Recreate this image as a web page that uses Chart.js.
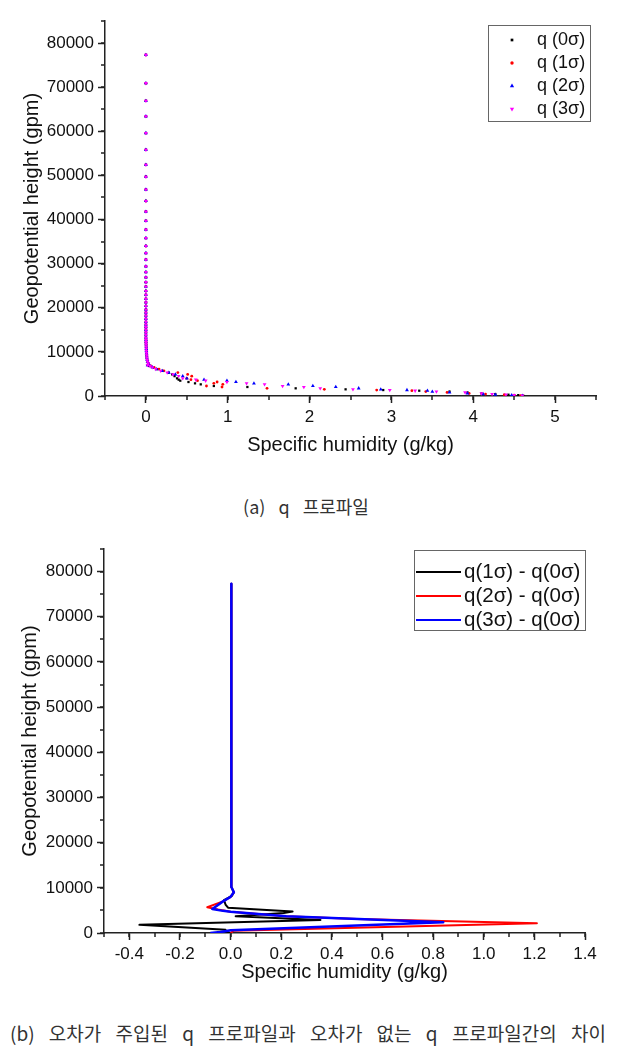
<!DOCTYPE html>
<html>
<head>
<meta charset="utf-8">
<script src="https://cdn.jsdelivr.net/npm/chart.js@4"></script>
<style>
body { margin: 0; background: #fff; width: 628px; height: 1052px; position: relative; overflow: hidden; }
canvas { position: absolute; left: 0; }
#chartA { top: 0; }
#chartB { top: 530px; }
.caption { position: absolute; font-family: 'Noto Sans CJK KR', sans-serif; font-size: 18px; color: #333; white-space: nowrap; line-height: 1; }
#capA { top: 497px; left: 0; width: 612px; text-align: center; word-spacing: 9px; }
#capB { top: 1023px; left: 10px; font-size: 19px; word-spacing: 10px; }
</style>
</head>
<body>
<canvas id="chartA" width="628" height="470"></canvas>
<div class="caption" id="capA">(a) q 프로파일</div>
<canvas id="chartB" width="628" height="460"></canvas>
<div class="caption" id="capB">(b) 오차가 주입된 q 프로파일과 오차가 없는 q 프로파일간의 차이</div>
<script>
'use strict'

// ---- (a) q profiles ----
// upper levels, all four runs sit on q ~ 0
const heightUpper = [77300, 70900, 66900, 63400, 59600, 55800, 52400, 49700, 46800, 44200,
    41800, 39700, 37700, 35800, 34000, 32400, 30900, 29400, 28100, 26900,
    25800, 24800, 23800, 22900, 22000, 21200, 20400, 19600, 18900, 18200,
    17500, 16800, 16200, 15600, 15000, 14400, 13800, 13200, 12700, 12200,
    11700, 11200, 10700, 10200, 9700, 9200, 8700, 8200, 7800, 7400]
const qUpper = [0, 0, 0, 0, 0, 0, 0, 0, 0, 0,
    0, 0, 0, 0, 0, 0, 0, 0, 0, 0,
    0, 0, 0, 0, 0, 0, 0, 0, 0, 0,
    0, 0, 0, 0, 0, 0, 0, 0, 0.001, 0.001,
    0.002, 0.003, 0.004, 0.005, 0.007, 0.01, 0.012, 0.015, 0.02, 0.03]

// lower levels, where the runs differ
const heightLower = [7000, 6800, 6500, 6100, 5700, 5300, 4900, 4500, 4000, 3700,
    3470, 3170, 2870, 2640, 2270, 2040, 1740, 1510, 1350, 1200,
    1000, 800, 580, 440, 290, 200, 80]
const q0Lower = [0.02, 0.04, 0.09, 0.14, 0.2, 0.28, 0.32, 0.35, 0.38, 0.4,
    0.42, 0.52, 0.6, 0.67, 0.83, 1.24, 1.83, 2.44, 2.9, 3.34,
    3.71, 3.93, 4.1, 4.27, 4.43, 4.55, 4.61]
const q1Lower = [0.03, 0.06, 0.1, 0.16, 0.22, 0.39, 0.51, 0.56, 0.5, 0.55,
    0.63, 0.87, 0.83, 0.94, 0.74, 0.93, 1.48, 2.18, 2.82, 3.25,
    3.42, 3.68, 3.95, 4.15, 4.38, 4.5, 4.58]
const q2Lower = [0.02, 0.05, 0.08, 0.13, 0.2, 0.28, 0.36, 0.45, 0.5, 0.71,
    0.99, 1.1, 1.32, 1.74, 2.04, 2.32, 2.6, 2.87, 3.19, 3.44,
    3.5, 3.71, 3.93, 4.12, 4.27, 4.47, 4.6]
const q3Lower = [0.02, 0.05, 0.08, 0.12, 0.18, 0.26, 0.33, 0.4, 0.45, 0.61,
    0.73, 0.99, 1.23, 1.45, 1.67, 1.93, 2.13, 2.53, 2.98, 3.29,
    3.55, 3.9, 4.1, 4.23, 4.4, 4.5, 4.6]

// ---- (b) differences ----
const d1Height = [77300, 10200, 9000, 8200, 7300, 6300, 5600, 4750, 4450, 3700, 2900, 1800, 700, 300, 0]
const d1Value = [0.003, 0.003, 0.013, 0.005, -0.026, -0.02, -0.01, 0.245, 0.21, 0.02, 0.355, -0.36, -0.02, -0.02, 0]
const d2Height = [77300, 10200, 9000, 8000, 7000, 5700, 5200, 4700, 3700, 3100, 2150, 500, 0]
const d2Value = [0.003, 0.003, 0.013, 0, -0.03, -0.092, -0.05, 0, 0.22, 0.5, 1.21, 0.012, 0]
const d3Height = [77300, 10200, 9000, 8000, 7000, 5320, 4900, 4700, 3700, 2370, 600, 200, 0]
const d3Value = [0.003, 0.003, 0.013, 0, -0.03, -0.072, -0.03, 0, 0.22, 0.84, 0, -0.04, -0.08]

// tick labels
const heightTicks = [0, 10000, 20000, 30000, 40000, 50000, 60000, 70000, 80000]
const qTicksA = [0, 1, 2, 3, 4, 5]
const qTicksB = [-0.4, -0.2, 0, 0.2, 0.4, 0.6, 0.8, 1.0, 1.2, 1.4]

const pairs = function(xs, ys) {
    return xs.map((x, i) => ({ x: x, y: ys[i] }))
}

Chart.defaults.font.family = "'Liberation Sans', Arial, sans-serif"
Chart.defaults.color = '#111'

const AXIS = '#222'

// short minor ticks between the labelled ones
const minorTicks = {
    id: 'minorTicks',
    afterDraw(chart, args, opts) {
        const ctx = chart.ctx
        const sx = chart.scales.x
        const sy = chart.scales.y
        ctx.save()
        ctx.strokeStyle = AXIS
        ctx.lineWidth = 1.5
        ctx.beginPath()
        for (let i = 0; ; i++) {
            const v = sx.min + i * opts.x
            if (v > sx.max + 1e-9) break
            const px = Math.round(sx.getPixelForValue(v))
            ctx.moveTo(px, sx.top)
            ctx.lineTo(px, sx.top + 4)
        }
        for (let i = 0; ; i++) {
            const v = sy.min + i * opts.y
            if (v > sy.max + 1e-9) break
            const py = Math.round(sy.getPixelForValue(v))
            ctx.moveTo(sy.right - 4, py)
            ctx.lineTo(sy.right, py)
        }
        ctx.stroke()
        ctx.restore()
    }
}

const drawMarker = function(ctx, style, x, y, r, rot) {
    ctx.beginPath()
    if (style === 'rect') {
        const s = r * Math.SQRT1_2
        ctx.rect(x - s, y - s, 2 * s, 2 * s)
    } else if (style === 'circle') {
        ctx.arc(x, y, r, 0, Math.PI * 2)
    } else {
        const d = rot ? -1 : 1
        ctx.moveTo(x, y - d * r)
        ctx.lineTo(x - r * 0.866, y + d * r * 0.5)
        ctx.lineTo(x + r * 0.866, y + d * r * 0.5)
        ctx.closePath()
    }
    ctx.fill()
}

// legend box drawn inside the plot, like the original
const boxLegend = {
    id: 'boxLegend',
    afterDraw(chart, args, opts) {
        const ctx = chart.ctx
        ctx.save()
        ctx.strokeStyle = '#666'
        ctx.lineWidth = 1
        ctx.strokeRect(opts.left + 0.5, opts.top + 0.5, opts.width, opts.height)
        ctx.font = opts.fontSize + "px 'Liberation Sans', Arial, sans-serif"
        ctx.textBaseline = 'middle'
        opts.order.forEach((di, row) => {
            const ds = chart.data.datasets[di]
            const y = opts.top + opts.firstRow + row * opts.rowGap
            if (opts.kind === 'line') {
                ctx.strokeStyle = ds.borderColor
                ctx.lineWidth = 2
                ctx.beginPath()
                ctx.moveTo(opts.left + 2, y)
                ctx.lineTo(opts.left + 2 + opts.sample, y)
                ctx.stroke()
            } else {
                ctx.fillStyle = ds.backgroundColor
                drawMarker(ctx, ds.pointStyle, opts.markerX, y, ds.pointRadius + 0.3, ds.pointRotation)
            }
            ctx.fillStyle = '#111'
            ctx.fillText(ds.label, opts.textX, y)
        })
        ctx.restore()
    }
}

const axisX = function(min, max, ticks, fmt, height, titlePad) {
    return {
        type: 'linear', min: min, max: max,
        afterBuildTicks: (s) => { s.ticks = ticks.map(v => ({ value: v })) },
        afterFit: (s) => { s.height = height },
        ticks: { padding: 4, font: { size: 17 }, color: '#111', callback: fmt },
        grid: { drawOnChartArea: false, tickLength: 7, tickWidth: 1.5, tickColor: AXIS },
        border: { color: AXIS, width: 1.5 },
        title: { display: true, text: 'Specific humidity (g/kg)', font: { size: 20 }, color: '#111', padding: { top: 0, bottom: titlePad } }
    }
}

const axisY = function(width, titlePad) {
    return {
        type: 'linear', min: 0, max: 85000,
        afterBuildTicks: (s) => { s.ticks = heightTicks.map(v => ({ value: v })) },
        afterFit: (s) => { s.width = width },
        ticks: { padding: 4, font: { size: 17 }, color: '#111', callback: (v) => String(v) },
        grid: { drawOnChartArea: false, tickLength: 7, tickWidth: 1.5, tickColor: AXIS },
        border: { color: AXIS, width: 1.5 },
        title: { display: true, text: 'Geopotential height (gpm)', font: { size: 20 }, color: '#111', padding: { top: titlePad, bottom: 0 } }
    }
}

const heights = heightUpper.concat(heightLower)

const scatterSet = function(label, q, color, style, radius, rot, order) {
    return {
        label: label,
        data: pairs(q, heights),
        backgroundColor: color,
        borderWidth: 0,
        pointStyle: style,
        pointRadius: radius,
        pointRotation: rot,
        pointHoverRadius: radius,
        order: order
    }
}

new Chart(document.getElementById('chartA'), {
    type: 'scatter',
    data: {
        datasets: [
            scatterSet('q (0σ)', qUpper.concat(q0Lower), '#000000', 'rect', 1.6, 0, 3),
            scatterSet('q (1σ)', qUpper.concat(q1Lower), '#ff0000', 'circle', 1.4, 0, 2),
            scatterSet('q (2σ)', qUpper.concat(q2Lower), '#0000ff', 'triangle', 2.2, 0, 1),
            scatterSet('q (3σ)', qUpper.concat(q3Lower), '#ff00ff', 'triangle', 2.2, 180, 0)
        ]
    },
    options: {
        responsive: false,
        animation: false,
        devicePixelRatio: 1,
        layout: { padding: { top: 21, right: 32, left: 0, bottom: 0 } },
        plugins: {
            legend: { display: false },
            tooltip: { enabled: false },
            minorTicks: { x: 0.5, y: 5000 },
            boxLegend: { left: 488, top: 25, width: 102, height: 96, firstRow: 15, rowGap: 23, markerX: 512, textX: 537, fontSize: 18, order: [0, 1, 2, 3] }
        },
        scales: {
            x: axisX(-0.5, 5.5, qTicksA, (v) => String(v), 74, 13),
            y: axisY(105, 20)
        }
    },
    plugins: [minorTicks, boxLegend]
})

const lineSet = function(label, values, hs, color, width, order) {
    return {
        label: label,
        data: pairs(values, hs),
        showLine: true,
        borderColor: color,
        backgroundColor: color,
        borderWidth: width,
        borderJoinStyle: 'round',
        pointRadius: 0,
        pointHoverRadius: 0,
        tension: 0,
        order: order
    }
}

new Chart(document.getElementById('chartB'), {
    type: 'scatter',
    data: {
        datasets: [
            lineSet('q(1σ) - q(0σ)', d1Value, d1Height, '#000000', 2, 2),
            lineSet('q(2σ) - q(0σ)', d2Value, d2Height, '#ff0000', 2, 1),
            lineSet('q(3σ) - q(0σ)', d3Value, d3Height, '#0000ff', 2.5, 0)
        ]
    },
    options: {
        responsive: false,
        animation: false,
        devicePixelRatio: 1,
        layout: { padding: { top: 19, right: 43, left: 0, bottom: 0 } },
        plugins: {
            legend: { display: false },
            tooltip: { enabled: false },
            minorTicks: { x: 0.1, y: 5000 },
            boxLegend: { kind: 'line', left: 414, top: 20, width: 171, height: 80, firstRow: 22, rowGap: 24, sample: 45, textX: 464, fontSize: 20.5, order: [0, 1, 2] }
        },
        scales: {
            x: axisX(-0.5, 1.4, qTicksB, (v) => v.toFixed(1), 57, 6),
            y: axisY(104, 18)
        }
    },
    plugins: [minorTicks, boxLegend]
})
</script>
</body>
</html>
